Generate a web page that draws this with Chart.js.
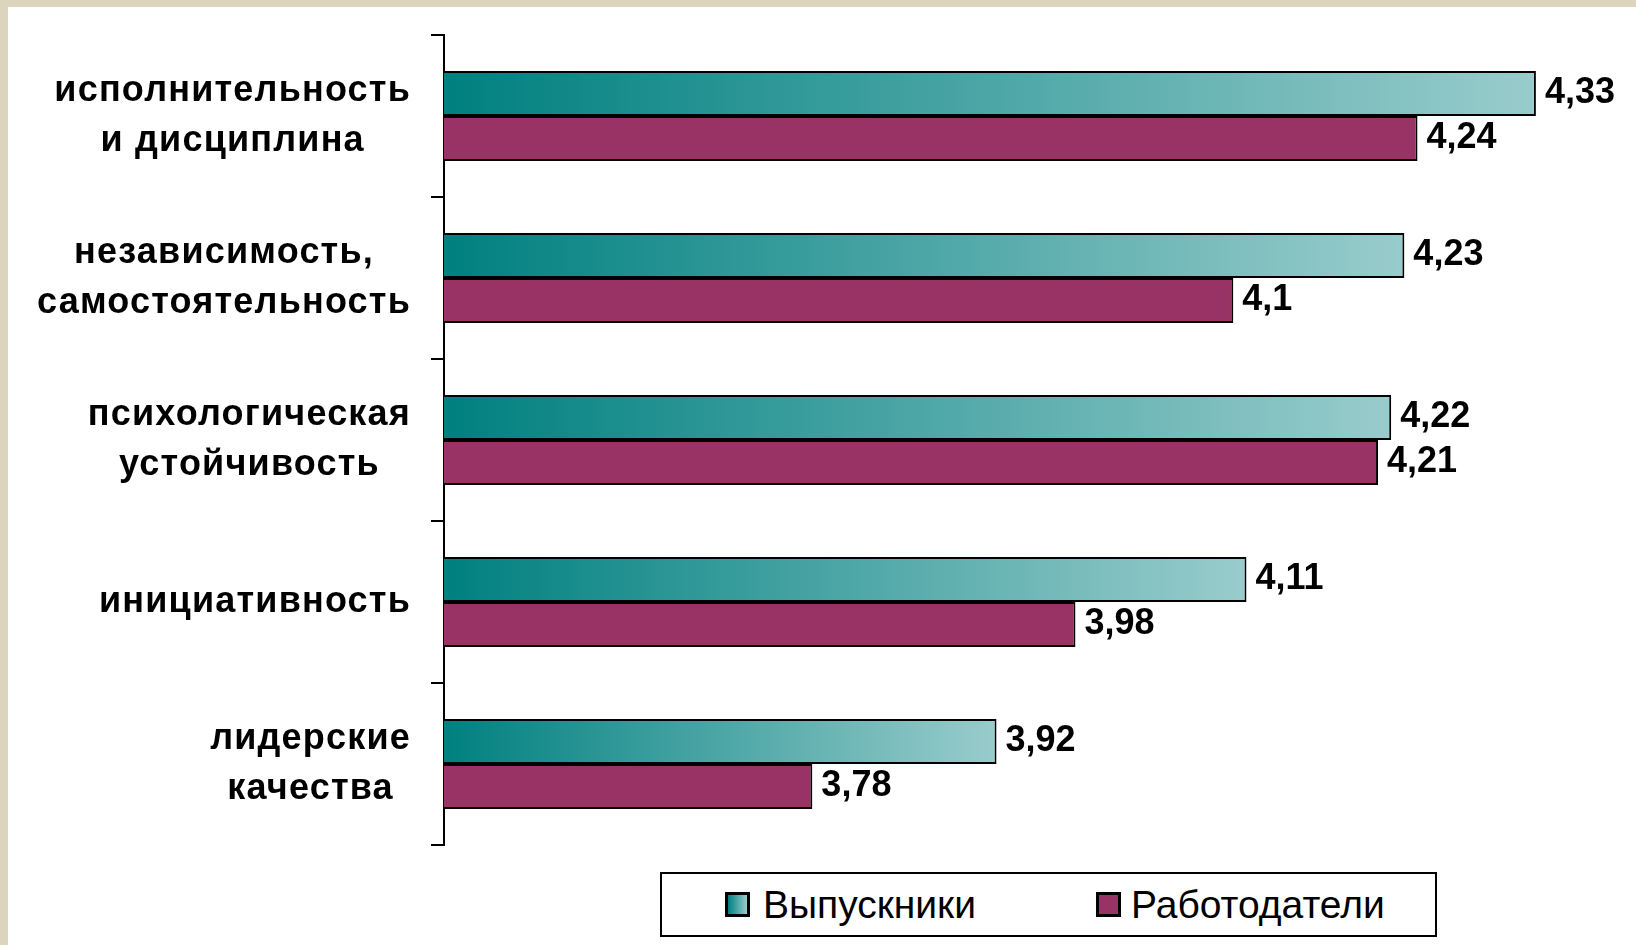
<!DOCTYPE html>
<html>
<head>
<meta charset="utf-8">
<script src="https://cdn.jsdelivr.net/npm/chart.js@4"></script>
<style>
  body { margin: 0; background: #fff; width: 1636px; height: 945px; position: relative; overflow: hidden; font-family: "Liberation Sans", Arial, sans-serif; }
  #top-strip { position: absolute; left: 0; top: 0; width: 1636px; height: 7px; background: #ddd4bd; }
  #left-strip { position: absolute; left: 0; top: 0; width: 8px; height: 945px; background: #ddd4bd; }
  #chart-box { position: absolute; left: 8px; top: 7px; width: 1628px; height: 938px; }
  #legend { position: absolute; left: 660px; top: 872px; width: 777px; height: 65px; box-sizing: border-box; border: 2px solid #000; background: #fff; }
  .mark { position: absolute; top: 18px; width: 25px; height: 25px; box-sizing: border-box; border: 3px solid #000; }
  .txt { position: absolute; top: -2px; line-height: 65px; font-size: 39px; color: #000; white-space: nowrap; }
</style>
</head>
<body>
<div id="top-strip"></div>
<div id="left-strip"></div>
<div id="chart-box"><canvas id="chart" width="1628" height="938"></canvas></div>
<div id="legend">
  <span class="mark" style="left:63px;background:linear-gradient(to right,#008080,#99cccc);"></span>
  <span class="txt" style="left:101px;">Выпускники</span>
  <span class="mark" style="left:434px;background:#993366;"></span>
  <span class="txt" style="left:469px;">Работодатели</span>
</div>
<script>
const categories = [
  ['исполнительность', 'и дисциплина'],
  ['независимость,', 'самостоятельность'],
  ['психологическая', 'устойчивость'],
  ['инициативность'],
  ['лидерские', 'качества']
];
const series_names = ['Выпускники', 'Работодатели'];
const graduates = [4.33, 4.23, 4.22, 4.11, 3.92];
const employers = [4.24, 4.1, 4.21, 3.98, 3.78];
const value_labels = [
  ['4,33', '4,23', '4,22', '4,11', '3,92'],
  ['4,24', '4,1', '4,21', '3,98', '3,78']
];
const x_min = 3.5, x_max = 4.4;

const label_font = 'bold 36px "Liberation Sans", Arial, sans-serif';

function teal_fill(ctx) {
  let chart = ctx.chart;
  if (!chart.chartArea || !chart.scales.x) return '#008080';
  let x0 = chart.scales.x.getPixelForValue(x_min);
  let x1 = chart.scales.x.getPixelForValue(ctx.raw);
  if (!isFinite(x1) || x1 <= x0) return '#008080';
  let g = chart.ctx.createLinearGradient(x0, 0, x1, 0);
  g.addColorStop(0, '#008080');
  g.addColorStop(1, '#99cccc');
  return g;
}

// category names: lines centred inside a right-aligned block
const label_plugin = {
  id: 'cat_labels',
  afterDraw(chart) {
    let c = chart.ctx, y_scale = chart.scales.y;
    let right = 403;
    c.save();
    c.font = label_font;
    c.letterSpacing = '1.2px';
    c.fillStyle = '#000';
    c.textAlign = 'center';
    c.textBaseline = 'middle';
    categories.forEach((lines, i) => {
      let yc = y_scale.getPixelForValue(i);
      let w = Math.max(...lines.map(l => c.measureText(l).width));
      lines.forEach((l, j) => {
        c.fillText(l, right - w / 2, yc + (j - (lines.length - 1) / 2) * 50);
      });
    });
    c.restore();
  }
};

// value labels at the end of each bar
const value_plugin = {
  id: 'value_labels',
  afterDatasetsDraw(chart) {
    let c = chart.ctx;
    c.save();
    c.font = label_font;
    c.fillStyle = '#000';
    c.textAlign = 'left';
    c.textBaseline = 'middle';
    chart.data.datasets.forEach((ds, i) => {
      chart.getDatasetMeta(i).data.forEach((bar, j) => {
        c.fillText(value_labels[i][j], bar.x + 9, bar.y);
      });
    });
    c.restore();
  }
};

new Chart(document.getElementById('chart'), {
  type: 'bar',
  data: {
    labels: categories,
    datasets: [
      { label: series_names[0], data: graduates, backgroundColor: teal_fill, borderColor: '#000', borderWidth: 2, borderSkipped: 'start', categoryPercentage: 0.556, barPercentage: 1 },
      { label: series_names[1], data: employers, backgroundColor: '#993366', borderColor: '#000', borderWidth: 2, borderSkipped: 'start', categoryPercentage: 0.556, barPercentage: 1 }
    ]
  },
  options: {
    indexAxis: 'y',
    responsive: false,
    animation: false,
    layout: { padding: { top: 28, right: 8, bottom: 100, left: 0 } },
    plugins: { legend: { display: false }, tooltip: { enabled: false } },
    scales: {
      x: { display: false, min: x_min, max: x_max },
      y: {
        offset: true,
        grid: { offset: true, drawOnChartArea: false, drawTicks: true, tickLength: 13, color: '#000', lineWidth: 2 },
        border: { color: '#000', width: 2 },
        ticks: { color: 'rgba(0,0,0,0)', font: { size: 10 } },
        afterFit: s => { s.width = 436; }
      }
    }
  },
  plugins: [label_plugin, value_plugin]
});
</script>
</body>
</html>
